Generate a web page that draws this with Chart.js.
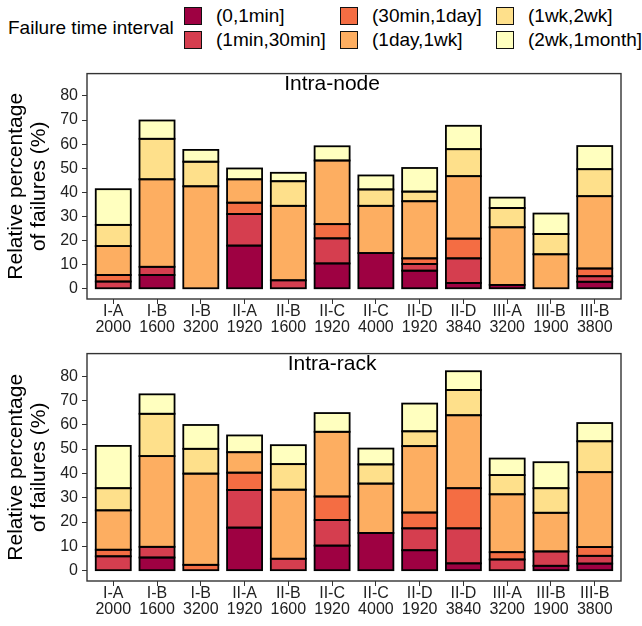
<!DOCTYPE html>
<html>
<head>
<meta charset="utf-8">
<script src="https://cdn.jsdelivr.net/npm/chart.js@4.4.1/dist/chart.umd.min.js"></script>
<style>
  body { margin: 0; background: #fff; font-family: 'Liberation Sans', Arial, Helvetica, sans-serif; }
  #wrap { position: relative; width: 642px; height: 626px; overflow: hidden; }
  #legend { position: absolute; left: 0; top: 0; width: 642px; height: 60px; }
  .ttl { position: absolute; left: 8px; top: 28px; transform: translateY(-50%); font-size: 19px; color: #000; white-space: nowrap; }
  .box { position: absolute; width: 16px; height: 16px; border: 1px solid #111; }
  .lbl { position: absolute; font-size: 19px; color: #000; white-space: nowrap; transform: translateY(-50%); }
  canvas { position: absolute; left: 0; }
</style>
</head>
<body>
<div id="wrap">
  <div id="legend"></div>
  <canvas id="nodeChart" width="642" height="280" style="top:60px"></canvas>
  <canvas id="rackChart" width="642" height="286" style="top:340px"></canvas>
</div>
<script>
// categories
const systems = ['I-A', 'I-B', 'I-B', 'II-A', 'II-B', 'II-C', 'II-C', 'II-D', 'II-D', 'III-A', 'III-B', 'III-B'];
const nodeCounts = ['2000', '1600', '3200', '1920', '1600', '1920', '4000', '1920', '3840', '3200', '1900', '3800'];
const intervals = ['(0,1min]', '(1min,30min]', '(30min,1day]', '(1day,1wk]', '(1wk,2wk]', '(2wk,1month]'];
const colors = ['#9E0142', '#D53E4F', '#F46D43', '#FDAE61', '#FEE08B', '#FFFFBF'];
const yTicks = [0, 10, 20, 30, 40, 50, 60, 70, 80];

// Intra-node: relative percentage of failures per interval
const node1min = [0, 5.7, 0, 17.9, 0, 10.5, 14.8, 7.5, 2.4, 1.6, 0, 2.9];
const node30min = [3.0, 3.4, 0, 13.1, 3.5, 10.4, 0, 2.8, 10.2, 0, 0, 2.3];
const node1day = [2.7, 0, 0, 4.7, 0, 5.9, 0, 2.3, 8.2, 0, 0, 3.2];
const node1wk = [12.0, 36.3, 42.5, 9.7, 30.9, 26.4, 19.6, 23.7, 25.9, 23.9, 14.3, 30.0];
const node2wk = [8.8, 16.8, 10.2, 0, 10.2, 0, 6.8, 4.0, 11.2, 8.0, 8.4, 11.2];
const node1month = [14.8, 7.6, 4.9, 4.5, 3.5, 5.9, 5.8, 9.8, 9.7, 4.3, 8.5, 9.6];

// Intra-rack
const rack1min = [0, 5.4, 0, 17.7, 0, 10.3, 15.5, 8.4, 3.0, 0, 2.0, 2.9];
const rack30min = [5.9, 4.4, 0, 15.5, 4.9, 10.5, 0, 9.0, 14.4, 4.6, 5.9, 3.2];
const rack1day = [2.7, 0, 2.4, 7.1, 0, 9.7, 0, 6.5, 16.5, 3.0, 0, 3.6];
const rack1wk = [16.2, 37.3, 37.5, 8.4, 28.4, 26.6, 20.3, 27.3, 30.0, 23.8, 15.9, 30.8];
const rack2wk = [9.1, 17.4, 10.2, 0, 10.5, 0, 7.9, 6.1, 10.4, 7.9, 10.1, 12.7];
const rack1month = [17.4, 8.0, 9.8, 6.9, 7.8, 7.7, 6.5, 11.4, 7.7, 6.8, 10.7, 7.5];

// legend (html, 3 columns x 2 rows)
const legend = document.getElementById('legend');
legend.innerHTML = '<div class="ttl">Failure time interval</div>';
const colLeft = [184, 340, 496];
const rowTop = [7, 31];
intervals.forEach((name, i) => {
  const c = Math.floor(i / 2), r = i % 2;
  const box = document.createElement('div');
  box.className = 'box';
  box.style.left = colLeft[c] + 'px';
  box.style.top = rowTop[r] + 'px';
  box.style.background = colors[i];
  legend.appendChild(box);
  const lbl = document.createElement('div');
  lbl.className = 'lbl';
  lbl.style.left = (colLeft[c] + 32) + 'px';
  lbl.style.top = (rowTop[r] + 9) + 'px';
  lbl.textContent = name;
  legend.appendChild(lbl);
});

const FONT = "'Liberation Sans', Arial, Helvetica, sans-serif";

// black outline on every segment, stroked on the edge like ggplot does
const outlinePlugin = {
  id: 'outline',
  afterDatasetsDraw(chart) {
    const ctx = chart.ctx;
    ctx.save();
    ctx.strokeStyle = '#000';
    ctx.lineWidth = 1.8;
    chart.data.datasets.forEach((ds, i) => {
      chart.getDatasetMeta(i).data.forEach(bar => {
        const { x, y, base, width } = bar.getProps(['x', 'y', 'base', 'width'], true);
        if (Math.abs(base - y) < 0.01) return;
        ctx.strokeRect(x - width / 2, Math.min(y, base), width, Math.abs(base - y));
      });
    });
    ctx.restore();
  }
};

// box around the panel + panel title
const panelPlugin = {
  id: 'panel',
  afterDatasetsDraw(chart, args, opts) {
    const { ctx, chartArea: a, scales } = chart;
    ctx.save();
    ctx.strokeStyle = '#333';
    ctx.lineWidth = 1.4;
    ctx.strokeRect(a.left, a.top, a.right - a.left, a.bottom - a.top);
    ctx.fillStyle = '#000';
    ctx.font = '21px ' + FONT;
    ctx.textAlign = 'center';
    ctx.textBaseline = 'middle';
    ctx.fillText(opts.text, scales.x.getPixelForValue(6), scales.y.getPixelForValue(85));
    ctx.restore();
  }
};

function makeChart(id, title, series, topPad, axisHeight) {
  const datasets = series.map((vals, i) => ({
    label: intervals[i],
    data: vals.map((v, j) => ({ x: j + 1, y: v })),
    backgroundColor: colors[i],
    borderWidth: 0,
    categoryPercentage: 1,
    barPercentage: 0.8
  }));

  return new Chart(document.getElementById(id), {
    type: 'bar',
    data: { datasets },
    plugins: [outlinePlugin, panelPlugin],
    options: {
      responsive: false,
      devicePixelRatio: 1,
      animation: false,
      layout: { padding: { top: topPad, right: 21, left: 0, bottom: 0 } },
      plugins: {
        legend: { display: false },
        tooltip: { enabled: false },
        panel: { text: title }
      },
      scales: {
        x: {
          type: 'linear',
          stacked: true,
          min: 0.4,
          max: 12.6,
          offset: false,
          afterBuildTicks: s => { s.ticks = systems.map((_, i) => ({ value: i + 1 })); },
          afterFit: s => { s.height = axisHeight; },
          ticks: {
            autoSkip: false,
            maxRotation: 0,
            padding: 0,
            color: '#222',
            font: { family: FONT, size: 16, lineHeight: 1.0 },
            callback: (v, i) => [systems[i], nodeCounts[i]]
          },
          grid: { display: true, offset: false, drawOnChartArea: false, drawTicks: true, tickLength: 5, color: '#333', lineWidth: 1 },
          border: { display: false }
        },
        y: {
          stacked: true,
          min: -4.25,
          max: 89.25,
          afterBuildTicks: s => { s.ticks = yTicks.map(v => ({ value: v })); },
          afterFit: s => { s.width = 87; },
          ticks: {
            padding: 4,
            color: '#222',
            font: { family: FONT, size: 16 },
            callback: v => v
          },
          grid: { display: true, drawOnChartArea: false, drawTicks: true, tickLength: 5, color: '#333', lineWidth: 1 },
          border: { display: false },
          title: {
            display: true,
            text: ['Relative percentage', 'of failures (%)'],
            color: '#000',
            font: { family: FONT, size: 21, lineHeight: 1.1 },
            padding: { top: 5, bottom: 0 }
          }
        }
      }
    }
  });
}

makeChart('nodeChart', 'Intra-node',
  [node1min, node30min, node1day, node1wk, node2wk, node1month], 10, 41);
makeChart('rackChart', 'Intra-rack',
  [rack1min, rack30min, rack1day, rack1wk, rack2wk, rack1month], 12, 45);
</script>
</body>
</html>
